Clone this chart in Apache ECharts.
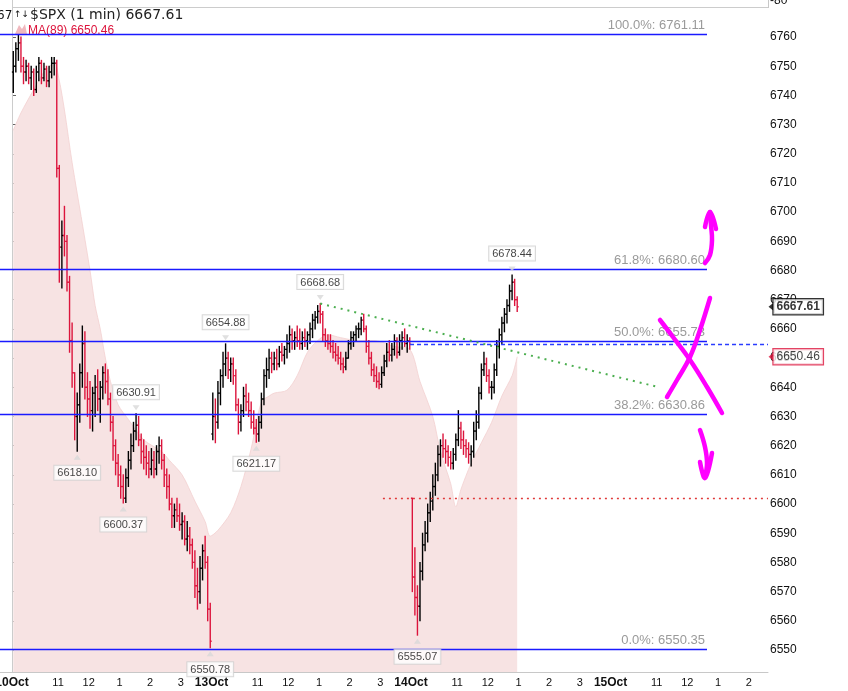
<!DOCTYPE html>
<html>
<head>
<meta charset="utf-8">
<script src="https://cdn.jsdelivr.net/npm/echarts@6/dist/echarts.min.js"></script>
<style>
html,body{margin:0;padding:0;background:#fff;}
#c{width:848px;height:691px;}
</style>
</head>
<body>
<div id="c"></div>
<script>
// ---------- DATA (5-minute bars) ----------
// session opening prices (first bar of each day)
var sessionStart = [0, 78, 156];
var sessionOpen = [6748, 6624, 6602];

// Oct 10 (bars 0-77), Oct 13 (78-155), Oct 14 (156-197)
var closeP = [
 6750,6756,6758,6750,6748,6750,6746,6748,6742,6748,6751,6746,6749,6745,6748,6751,6751,6715,6688,6692,
 6690,6676,6656,6645,6630,6634,6645,6655,6640,6636,6632,6638,6640,6636,6640,6645,6642,6636,6628,6620,
 6614,6610,6606,6602,6609,6615,6620,6625,6627,6622,6618,6616,6614,6612,6615,6612,6618,6620,6615,6610,
 6606,6600,6596,6598,6596,6593,6594,6588,6589,6586,6580,6572,6570,6578,6584,6580,6564,6553,
 6630,6628,6638,6644,6648,6650,6646,6648,6644,6634,6628,6632,6637,6635,6632,6628,6626,6624,6628,6636,
 6644,6646,6650,6648,6650,6648,6652,6651,6653,6655,6658,6656,6657,6656,6655,6657,6656,6658,6660,6663,
 6664,6666,6665,6658,6656,6655,6654,6652,6651,6650,6648,6647,6650,6655,6657,6658,6660,6660,6663,6660,
 6654,6650,6646,6644,6642,6641,6645,6649,6652,6651,6653,6656,6652,6656,6657,6655,6656,6654.72,
 6575,6568,6565,6577,6586,6590,6597,6601,6606,6610,6617,6620,6619,6618,6616,6614,6617,6622,6626,6622,
 6620,6619,6617,6618,6625,6628,6638,6646,6648,6644,6640,6640,6646,6654,6658,6662,6665,6668,6673,6676,
 6670,6667.61
];
var highP = [
 6755,6758,6761.11,6760,6753,6752,6751,6750,6749,6750,6753,6752,6751,6750,6750,6753,6753,6752,6716,6697,
 6702,6692,6678,6662,6645,6638,6648,6661,6659,6645,6642,6640,6644,6646,6642,6647,6648,6646,6638,6630,
 6622,6617,6613,6610,6612,6618,6624,6628,6630.91,6630,6624,6622,6620,6618,6619,6618,6620,6623,6622,6617,
 6612,6610,6602,6600,6602,6600,6597,6596,6594,6592,6588,6584,6578,6582,6586,6589,6582,6566,
 6638,6636,6642,6646,6652,6654.88,6652,6650,6650,6646,6636,6634,6640,6641,6638,6635,6632,6629,6630,6638,
 6646,6650,6653,6652,6652,6653,6654,6655,6654,6658,6661,6660,6659,6661,6660,6659,6660,6659,6662,6665,
 6666,6668,6668.68,6666,6660,6658,6658,6656,6655,6654,6652,6650,6652,6656,6659,6659,6661,6662,6664,6665,
 6661,6656,6652,6648,6647,6645,6647,6651,6655,6656,6655,6658,6657,6658,6659,6660,6658,6657,
 6602,6585,6572,6580,6590,6594,6600,6604,6610,6614,6620,6622,6624,6622,6620,6618,6619,6624,6632,6628,
 6625,6622,6621,6620,6628,6632,6640,6648,6652,6650,6646,6642,6648,6656,6660,6664,6667,6670,6675,6678.44,
 6677,6671
];
var lowP = [
 6741,6748,6752,6748,6744,6745,6744,6742,6740,6741,6745,6744,6745,6743,6743,6746,6747,6712,6676,6674,
 6685,6673,6652,6640,6622,6618.10,6628,6640,6636,6630,6626,6625,6630,6632,6628,6636,6638,6634,6625,6615,
 6610,6606,6602,6600.37,6600.5,6606,6612,6618,6622,6620,6614,6612,6610,6609,6610,6609,6610,6614,6612,6606,
 6602,6598,6592,6592,6594,6591,6588,6586,6584,6583,6578,6568,6564,6566,6574,6578,6560,6550.78,
 6622,6621,6626,6634,6640,6644,6643,6642,6641,6632,6624,6625,6630,6632,6630,6626,6624,6621.17,6621.5,6626,
 6634,6640,6643,6645,6646,6646,6647,6649,6648,6650,6652,6653,6653,6654,6653,6653,6654,6653,6655,6657,
 6660,6662,6662,6656,6654,6653,6652,6650,6649,6648,6646,6645,6646,6650,6653,6654,6656,6657,6658,6659,
 6652,6648,6644,6642,6640,6639.5,6640,6644,6647,6649,6649,6651,6650,6651,6653,6654,6652,6653,
 6570,6562,6555.07,6560,6574,6584,6587,6594,6598,6603,6608,6613,6616,6614,6613,6612,6612,6615,6620,6619,
 6617,6616,6614,6613,6616,6622,6626,6636,6644,6642,6638,6636,6638,6644,6650,6655,6659,6662,6666,6670,
 6668,6666
];

// MA(89) upper edge, read at these bar indexes
var maIdx = [0,3,8,12,16,18,20,23,27,30,32,34,36,38,41,45,51,58,61,66,71,75,77,80,85,89,93,97,100,102,107,111,115,119,123,128,135,141,149,155,159,164,167,171,173,175,179,183,187,191,195,197];
var maVal = [6728,6734,6742,6748,6751,6745,6735,6717,6696,6680,6668,6660,6650,6642,6634,6629,6622,6618,6615,6610,6601,6594,6589,6591,6597,6606,6619,6635,6637,6638,6639,6644,6652,6656,6658,6657,6656,6656,6654,6653,6642,6630,6618,6607,6599,6605,6614,6621,6628,6637,6644,6650.46];

// Fibonacci retracement levels
var fibPct = ['100.0','61.8','50.0','38.2','0.0'];
var fibVal = [6761.11, 6680.60, 6655.73, 6630.86, 6550.35];

// swing annotations
var hiIdx = [48, 83, 120, 195];
var hiVal = [6630.91, 6654.88, 6668.68, 6678.44];
var loIdx = [25, 43, 77, 95, 158];
var loVal = [6618.10, 6600.37, 6550.78, 6621.17, 6555.07];

// other levels
var prevClose = 6654.72;   // blue dashed
var openLevel = 6602;      // red dotted
var trendFrom = [120, 6668.68];
var trendTo = [253, 6640];
var lastPrice = 6667.61;
var lastMA = 6650.46;

// axis ticks
var yTicks = [6550,6560,6570,6580,6590,6600,6610,6620,6630,6640,6650,6660,6670,6680,6690,6700,6710,6720,6730,6740,6750,6760];
var xTickPos = [0,18,30,42,54,66,78,96,108,120,132,144,156,174,186,198,210,222,234,252,264,276,288];
var xTickText = ['10Oct','11','12','1','2','3','13Oct','11','12','1','2','3','14Oct','11','12','1','2','3','15Oct','11','12','1','2'];

// ---------- CHART ----------
var X_MIN = -4.691, X_MAX = 295.544, Y_MIN = 6542.46, Y_MAX = 6770.28;
var RED = '#dc143c';

var ohlc = [];
for (var i = 0; i < closeP.length; i++) {
  var si = sessionStart.indexOf(i);
  var o = si >= 0 ? sessionOpen[si] : closeP[i - 1];
  ohlc.push([i + 0.5, o, closeP[i], lowP[i], highP[i]]);
}
var maData = maIdx.map(function (k, j) { return [k + 0.5, maVal[j]]; });
var hiData = hiIdx.map(function (k, j) { return [k + 0.5, hiVal[j]]; });
var loData = loIdx.map(function (k, j) { return [k + 0.5, loVal[j]]; });

var FIB_END = (707 - 12) / 2.558;
var lineItems = [];
fibVal.forEach(function (v, j) {
  lineItems.push([
    {coord: [X_MIN, v], lineStyle: {color: '#1a1aff', width: 1.3, type: 'solid'},
     label: {show: true, position: 'insideEndTop', formatter: fibPct[j] + '%: ' + v.toFixed(2),
             color: '#9a9a9a', fontSize: 13, fontFamily: 'Liberation Sans', distance: 2}},
    {coord: [FIB_END, v]}
  ]);
});
lineItems.push([
  {coord: [155.6, prevClose], lineStyle: {color: '#2a3cff', width: 1.3, type: [4, 3]}, label: {show: false}},
  {coord: [X_MAX, prevClose]}
]);
lineItems.push([
  {coord: [145, openLevel], lineStyle: {color: '#e03a3a', width: 1.3, type: [2, 4]}, label: {show: false}},
  {coord: [X_MAX, openLevel]}
]);
lineItems.push([
  {coord: [trendFrom[0] + 0.5, trendFrom[1]], lineStyle: {color: '#4caf50', width: 2, type: [2, 5]}, label: {show: false}},
  {coord: trendTo}
]);

var annLabel = {
  show: true, color: '#111', fontSize: 11, fontFamily: 'Liberation Sans',
  backgroundColor: '#fff', borderColor: '#cfcfcf', borderWidth: 1, padding: [2, 3, 1, 3],
  formatter: function (p) { return p.value[1].toFixed(2); }
};

var magenta = function (pts) {
  return {type: 'polyline', shape: {points: pts, smooth: 0.4},
          style: {stroke: '#ff00ff', lineWidth: 4.5, lineCap: 'round', lineJoin: 'round', fill: null}, z: 100};
};

var chart = echarts.init(document.getElementById('c'), null, {renderer: 'canvas'});
chart.setOption({
  animation: false,
  backgroundColor: '#fff',
  textStyle: {fontFamily: 'Liberation Sans'},
  grid: {left: 0, right: 80, top: 7, bottom: 19, containLabel: false, outerBoundsMode: 'none'},
  xAxis: {
    type: 'value', min: X_MIN, max: X_MAX,
    splitLine: {show: false}, axisTick: {show: false},
    axisLine: {show: true, lineStyle: {color: '#c8c8c8'}},
    axisLabel: {
      customValues: xTickPos, margin: 5, color: '#111', fontSize: 11, hideOverlap: false,
      formatter: function (v) {
        var k = xTickPos.indexOf(Math.round(v));
        var t = k >= 0 ? xTickText[k] : '';
        return /Oct/.test(t) ? '{d|' + t + '}' : t;
      },
      rich: {d: {fontWeight: 'bold', fontSize: 12, color: '#111', fontFamily: 'Liberation Sans'}}
    }
  },
  yAxis: {
    type: 'value', position: 'right', min: Y_MIN, max: Y_MAX, scale: true,
    splitLine: {show: false},
    axisLine: {show: true, lineStyle: {color: '#c8c8c8'}},
    axisTick: {show: true, customValues: yTicks, length: 4, lineStyle: {color: '#666'}},
    axisLabel: {customValues: yTicks, color: '#111', fontSize: 12, margin: 2,
                formatter: function (v) { return String(Math.round(v)); }}
  },
  graphic: [
    {type: 'line', shape: {x1: 12, y1: 7.5, x2: 768, y2: 7.5}, style: {stroke: '#cccccc', lineWidth: 1}, z: 1},
    {type: 'line', shape: {x1: 12.5, y1: 0, x2: 12.5, y2: 672}, style: {stroke: '#cccccc', lineWidth: 1}, z: 1},
    {type: 'line', shape: {x1: 768.5, y1: 0, x2: 768.5, y2: 8}, style: {stroke: '#c8c8c8', lineWidth: 1}, z: 1},
    {type: 'text', left: 770, top: -5, style: {text: '-80', fill: '#111', font: '12px "Liberation Sans"'}, z: 5},
    {type: 'text', left: -3, top: 10, style: {text: '67', fill: '#111', font: '12px "DejaVu Sans"'}, z: 5},
    {type: 'text', left: 14, top: 10, style: {text: '\u2191\u2193', fill: '#111', font: '9px "DejaVu Sans"'}, z: 5},
    {type: 'text', left: 30, top: 8, style: {text: '$SPX (1 min) 6667.61', fill: '#222', font: '14px "DejaVu Sans"'}, z: 5},
    {type: 'polygon', shape: {points: [[15, 34], [19, 25], [22, 29], [25, 24], [27, 34]]}, style: {fill: '#f0b8be'}, z: 5},
    {type: 'text', left: 28, top: 25, style: {text: 'MA(89) 6650.46', fill: RED, font: '12px "Liberation Sans"'}, z: 5},
    // magenta hand drawings
    magenta([[705, 263], [710, 255], [712, 240], [711, 225], [710, 212]]),
    magenta([[705, 227], [710, 212], [716, 229]]),
    magenta([[660, 320], [673, 337], [690, 360], [707, 387], [722, 413]]),
    magenta([[710, 298], [700, 330], [690, 357], [677, 380], [667, 397]]),
    magenta([[700, 430], [705, 447], [707, 463], [705, 477]]),
    magenta([[700, 462], [705, 478], [712, 453]])
  ],
  series: [
    {
      name: 'MA(89)', type: 'line', data: maData, smooth: 0.3, symbol: 'none', z: 1,
      lineStyle: {width: 0.8, color: '#f2d0d0'},
      areaStyle: {color: '#f7e3e3', opacity: 1, origin: Y_MIN},
      silent: true
    },
    {
      name: 'levels', type: 'line', data: [], z: 2, silent: true,
      markLine: {symbol: 'none', silent: true, animation: false, data: lineItems}
    },
    {
      name: '$SPX', type: 'custom', z: 3, data: ohlc,
      encode: {x: 0, y: [1, 2, 3, 4]},
      renderItem: function (params, api) {
        var x = api.value(0), o = api.value(1), c = api.value(2), l = api.value(3), h = api.value(4);
        var lo = Math.min(l, o, c), hi = Math.max(h, o, c);
        var pL = api.coord([x, lo]), pH = api.coord([x, hi]);
        var pO = api.coord([x, o]), pC = api.coord([x, c]);
        var half = api.size([1, 0])[0] * 0.55;
        var col = c >= o ? '#000' : RED;
        function st() { return {stroke: col, lineWidth: 1.4}; }
        return {type: 'group', children: [
          {type: 'line', shape: {x1: pL[0], y1: pL[1] + 0.5, x2: pH[0], y2: pH[1] - 0.5}, style: st()},
          {type: 'line', shape: {x1: pO[0] - half, y1: pO[1], x2: pO[0], y2: pO[1]}, style: st()},
          {type: 'line', shape: {x1: pC[0], y1: pC[1], x2: pC[0] + half, y2: pC[1]}, style: st()}
        ]};
      }
    },
    {
      name: 'highs', type: 'scatter', data: hiData, symbol: 'triangle', symbolSize: [7, 5], symbolRotate: 180,
      symbolOffset: [0, -6], itemStyle: {color: '#d8d8d8'}, z: 6, clip: false,
      label: Object.assign({position: 'top', distance: 6}, annLabel)
    },
    {
      name: 'lows', type: 'scatter', data: loData, symbol: 'triangle', symbolSize: [7, 5],
      symbolOffset: [0, 6], itemStyle: {color: '#d8d8d8'}, z: 6, clip: false,
      label: Object.assign({position: 'bottom', distance: 6}, annLabel)
    },
    {
      name: 'tags', type: 'scatter', clip: false, z: 10,
      data: [
        {value: [X_MAX, lastPrice], symbol: 'triangle', symbolSize: [8, 5], symbolRotate: 90, symbolOffset: [3, 0],
         itemStyle: {color: '#000'},
         label: {show: true, position: 'right', distance: 0, formatter: lastPrice.toFixed(2), color: '#000',
                 fontWeight: 'bold', fontSize: 12, backgroundColor: '#fff', borderColor: '#000', borderWidth: 1.2, padding: [2, 3, 1, 3]}},
        {value: [X_MAX, lastMA], symbol: 'triangle', symbolSize: [8, 5], symbolRotate: 90, symbolOffset: [3, 0],
         itemStyle: {color: RED},
         label: {show: true, position: 'right', distance: 0, formatter: lastMA.toFixed(2), color: '#111',
                 fontSize: 12, backgroundColor: '#fff', borderColor: RED, borderWidth: 1.2, padding: [2, 3, 1, 3]}}
      ]
    }
  ]
});
</script>
</body>
</html>
